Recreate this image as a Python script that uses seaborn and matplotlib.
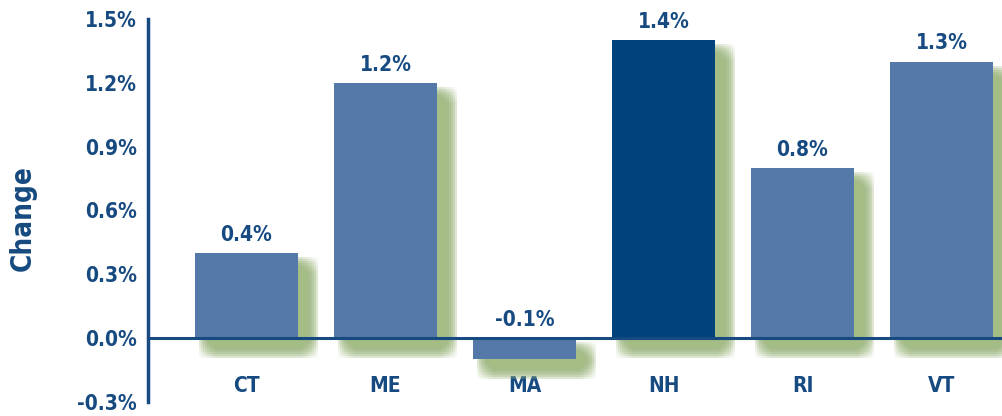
import matplotlib
matplotlib.use("Agg")
import matplotlib.pyplot as plt
import matplotlib.patheffects as pe
import seaborn as sns
import pandas as pd

# data
states = ["CT", "ME", "MA", "NH", "RI", "VT"]
change = [0.4, 1.2, -0.1, 1.4, 0.8, 1.3]
yticks = [-0.3, 0.0, 0.3, 0.6, 0.9, 1.2, 1.5]

bar_color = "#5479a8"
highlight = "#00437c"
text_color = "#164a80"
shadow_color = "#a3bd85"

sns.set_style("white")
plt.rcParams["font.family"] = ["DejaVu Sans"]
plt.rcParams["font.stretch"] = "condensed"
plt.rcParams["font.weight"] = "bold"

df = pd.DataFrame({"state": states, "change": change})
palette = [highlight if s == "NH" else bar_color for s in states]

fig = plt.figure(figsize=(10.02, 4.16), dpi=100)
ax = fig.add_axes([0.1477, 0.0337, 0.8523, 0.9206])

sns.barplot(data=df, x="state", y="change", hue="state", palette=palette,
            legend=False, width=0.74, saturation=1, ax=ax, zorder=3)

# soft green drop shadow: many faint offset copies give a blurred edge
shadow = []
for dx in range(4, 21, 2):
    for dy in range(4, 21, 2):
        shadow.append(pe.SimplePatchShadow(offset=(dx * 0.72, -dy * 0.72),
                                           shadow_rgbFace=shadow_color, alpha=0.045))
for p in ax.patches:
    p.set_path_effects(shadow + [pe.Normal()])
    p.set_edgecolor("none")

for i, v in enumerate(change):
    ax.annotate(f"{v:.1f}%", (i, max(v, 0)), xytext=(0, 6), textcoords="offset points",
                ha="center", va="bottom", fontsize=15, fontweight="bold", color=text_color)

ax.set_ylim(-0.3, 1.5)
ax.set_xlim(-0.709, 5.435)
ax.set_yticks(yticks)
ax.set_yticklabels([f"{t:.1f}%" for t in yticks])

for s in ["top", "right"]:
    ax.spines[s].set_visible(False)
ax.spines["left"].set_color(text_color)
ax.spines["left"].set_linewidth(2.5)
ax.spines["bottom"].set_position(("data", 0))
ax.spines["bottom"].set_color(text_color)
ax.spines["bottom"].set_linewidth(2.2)
ax.spines["bottom"].set_zorder(4)

ax.tick_params(axis="y", direction="in", length=14, width=1.8, color=text_color,
               labelsize=15, labelcolor=text_color, pad=8)
ax.tick_params(axis="x", length=0, labelsize=15, labelcolor=text_color, pad=27)
for lbl in ax.get_xticklabels() + ax.get_yticklabels():
    lbl.set_fontweight("bold")

ax.set_xlabel("")
ax.set_ylabel("Change", fontsize=20, fontweight="bold", color=text_color)
ax.yaxis.set_label_coords(-0.13, 0.48)

fig.savefig("out.png", dpi=100)
